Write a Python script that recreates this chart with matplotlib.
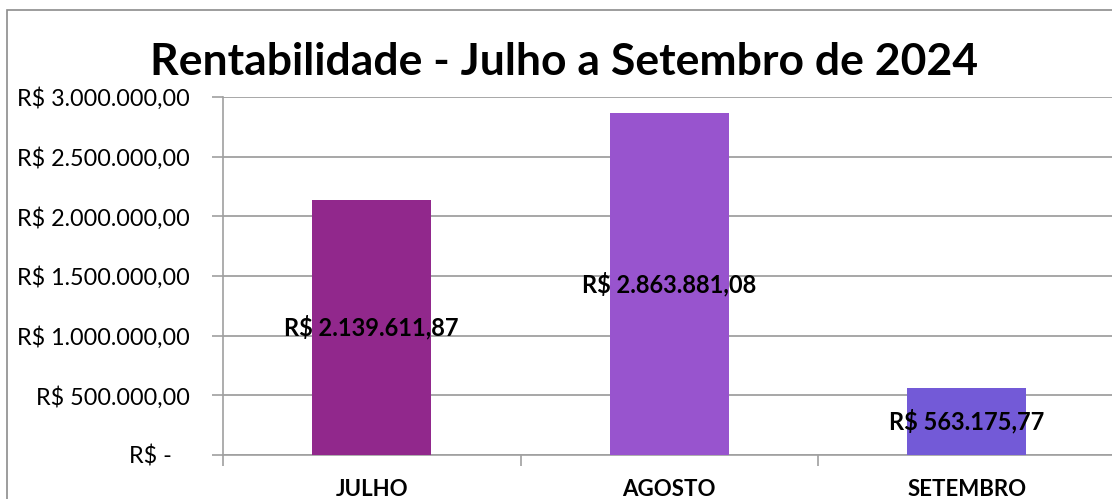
import matplotlib
matplotlib.use("Agg")
import matplotlib.pyplot as plt
from matplotlib.patches import Rectangle

# ---------------- data ----------------
meses   = ["JULHO", "AGOSTO", "SETEMBRO"]
valores = [2139611.87, 2863881.08, 563175.77]
cores   = ["#91288C", "#9854CE", "#735AD7"]
yticks  = [0, 500000, 1000000, 1500000, 2000000, 2500000, 3000000]
titulo  = "Rentabilidade - Julho a Setembro de 2024"

FONT = "Lato"


def brl(v):
    # 1234567.89 -> 1.234.567,89
    s = f"{v:,.2f}"
    return s.replace(",", "X").replace(".", ",").replace("X", ".")


def ytick_fmt(v):
    if v == 0:
        return "R$ -   "
    return "R$ " + brl(v)


W, H = 1112, 499
fig = plt.figure(figsize=(W / 100, H / 100), dpi=100)

# outer chart border (cropped on right / bottom)
fig.patches.append(Rectangle((7 / W, -0.1), 1.2, 1 - 10 / H + 0.1,
                             transform=fig.transFigure, fill=False,
                             edgecolor="#8C8C8C", linewidth=1.2))

ax = fig.add_axes([223 / W, (H - 455) / H, (1115.5 - 223) / W, (455 - 97) / H])
x = range(len(meses))
ax.bar(x, valores, width=0.40, color=cores, zorder=3)

ax.set_xlim(-0.5, 2.5)
ax.set_ylim(0, 3000000)
ax.set_yticks(yticks)
ax.set_yticklabels([ytick_fmt(v) for v in yticks], fontsize=16.8, family=FONT)
ax.yaxis.grid(True, color="#A0A0A0", linewidth=1.3, zorder=0)
ax.tick_params(axis="y", length=8, width=1.2, color="#A0A0A0", pad=16)

ax.set_xticks(list(x))
ax.set_xticklabels(meses, fontsize=16, fontweight="bold", family=FONT)
ax.tick_params(axis="x", which="major", length=0, pad=17)
ax.set_xticks([-0.5, 0.5, 1.5, 2.5], minor=True)
ax.tick_params(axis="x", which="minor", length=8, width=1.2, color="#A0A0A0")

for s in ["top", "right"]:
    ax.spines[s].set_visible(False)
for s in ["left", "bottom"]:
    ax.spines[s].set_color("#A0A0A0")
    ax.spines[s].set_linewidth(1.2)

for i, v in enumerate(valores):
    ax.text(i, v / 2, "R$ " + brl(v), ha="center", va="center",
            fontsize=17, fontweight="bold", family=FONT, zorder=4)

fig.text(564 / W, 1 - 62 / H, titulo, ha="center", va="center",
         fontsize=32, fontweight="bold", family=FONT)

fig.savefig("out.png", dpi=100)
